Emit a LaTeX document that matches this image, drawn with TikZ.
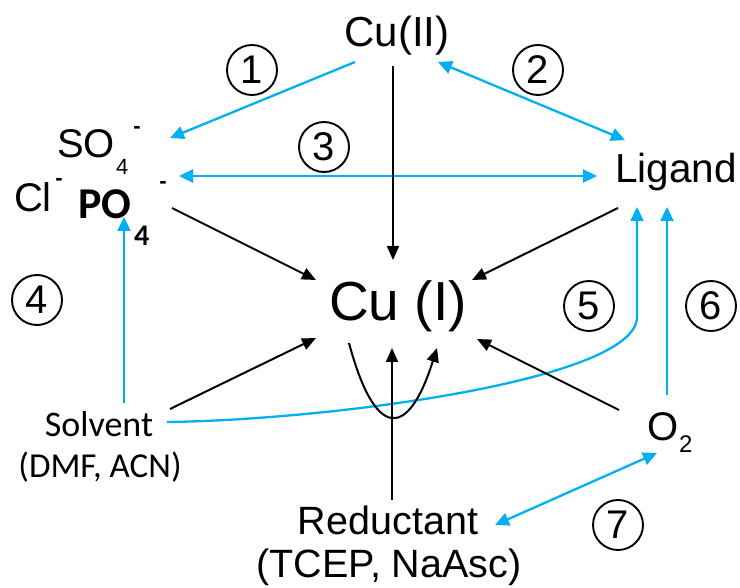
\documentclass[tikz,border=0pt]{standalone}
\usepackage{fontspec}
\setmainfont{Liberation Sans}
\newfontfamily\calfont{Carlito}
\usetikzlibrary{arrows.meta}
\definecolor{cyanblue}{HTML}{00B0F0}
\begin{document}
\begin{tikzpicture}[x=1pt,y=-1pt,
  fs/.style={font=\fontsize{#1}{#1}\selectfont},
  lbl/.style={inner sep=0pt,outer sep=0pt},
  minus/.style={inner sep=0pt,outer sep=0pt,anchor=base,font=\bfseries\fontsize{22}{22}\selectfont},
  bluearrow/.style={draw=cyanblue,line width=2.3pt,-{Triangle[length=14pt,width=13pt]}},
  bluedouble/.style={draw=cyanblue,line width=2.3pt,{Triangle[length=14pt,width=13pt]}-{Triangle[length=14pt,width=13pt]}},
  blackarrow/.style={draw=black,line width=2pt,-{Triangle[length=14pt,width=12pt]}},
  numcirc/.style={circle,draw,line width=1.9pt,minimum size=50pt,inner sep=0pt,font=\fontsize{40}{40}\selectfont}
]
\useasboundingbox (0,0) rectangle (740,588);
\fill[white] (0,0) rectangle (740,588);

% texts
\node[lbl,fs=42,anchor=base] (cu2) at (397,47) {Cu(II)};
\node[lbl,fs=40.5,anchor=base west] (lig) at (615,183) {Ligand};
\node[lbl,fs=55,anchor=base] (cu1) at (398,321) {Cu (I)};
\node[lbl,fs=40,anchor=base west] (so) at (57,158) {SO};
\node[lbl,fs=22,anchor=base west] (so4) at (116,175) {4};
\node[minus] (som) at (137,133.5) {\smash{-}};
\node[lbl,fs=40,anchor=base west] (cl) at (14,212) {Cl};
\node[minus] (clm) at (59,185.5) {\smash{-}};
\node[lbl,font=\calfont\bfseries\fontsize{44}{44}\selectfont,anchor=base west] (po) at (78,219) {PO};
\node[lbl,font=\calfont\bfseries\fontsize{30}{30}\selectfont,anchor=base west] (po4) at (134,246) {4};
\node[minus] (pom) at (163,188.5) {\smash{-}};
\node[lbl,font=\calfont\fontsize{36}{36}\selectfont,anchor=base] (solv) at (99,437) {Solvent};
\node[lbl,font=\calfont\fontsize{35}{35}\selectfont,anchor=base] (solv2) at (100,478) {(DMF, ACN)};
\node[lbl,fs=39.5,anchor=base] (red) at (388,534) {Reductant};
\node[lbl,fs=39.5,anchor=base] (red2) at (389,577) {(TCEP, NaAsc)};
\node[lbl,fs=40,anchor=base west] (oo) at (647,440) {O};
\node[lbl,fs=24,anchor=base west] (oo2) at (679,453) {2};

% circled numbers
\node[numcirc] (n1) at (252,70) {1};
\node[numcirc] (n2) at (538,70) {2};
\node[numcirc] (n3) at (324,147) {3};
\node[numcirc] (n4) at (37,300) {4};
\node[numcirc] (n5) at (589,306) {5};
\node[numcirc] (n6) at (711,306) {6};
\node[numcirc] (n7) at (618,525) {7};

% endpoints
\coordinate (b1s) at (355,62);  \coordinate (b1e) at (170,138);
\coordinate (b2s) at (438,62);  \coordinate (b2e) at (625,140);
\coordinate (b3s) at (179,176); \coordinate (b3e) at (597,176);
\coordinate (b4s) at (124,403); \coordinate (b4e) at (124,217);
\coordinate (b5s) at (167,422); \coordinate (b5m) at (637,317); \coordinate (b5e) at (637,207);
\coordinate (b6s) at (667,395); \coordinate (b6e) at (667,207);
\coordinate (b7s) at (495,525); \coordinate (b7e) at (657,453);

\coordinate (k1s) at (393,66);  \coordinate (k1e) at (393,260);
\coordinate (k2s) at (172,208); \coordinate (k2e) at (316,280);
\coordinate (k3s) at (618,208); \coordinate (k3e) at (472,280);
\coordinate (k4s) at (170,409); \coordinate (k4e) at (316,338);
\coordinate (k5s) at (619,410); \coordinate (k5e) at (477,339);
\coordinate (k6s) at (392,500); \coordinate (k6e) at (392,348);
\coordinate (k7s) at (349,343); \coordinate (k7e) at (437,348);

% blue connectors
\draw[bluearrow] (b1s) -- (b1e);
\draw[bluedouble] (b2s) -- (b2e);
\draw[bluedouble] (b3s) -- (b3e);
\draw[bluearrow] (b4s) -- (b4e);
\draw[bluearrow] (b5s) .. controls (330,420) and (637,380) .. (b5m) -- (b5e);
\draw[bluearrow] (b6s) -- (b6e);
\draw[bluedouble] (b7s) -- (b7e);

% black connectors
\draw[blackarrow] (k1s) -- (k1e);
\draw[blackarrow] (k2s) -- (k2e);
\draw[blackarrow] (k3s) -- (k3e);
\draw[blackarrow] (k4s) -- (k4e);
\draw[blackarrow] (k5s) -- (k5e);
\draw[blackarrow] (k6s) -- (k6e);
\draw[blackarrow] (k7s) .. controls (375,440) and (408,440) .. (k7e);
\end{tikzpicture}
\end{document}
